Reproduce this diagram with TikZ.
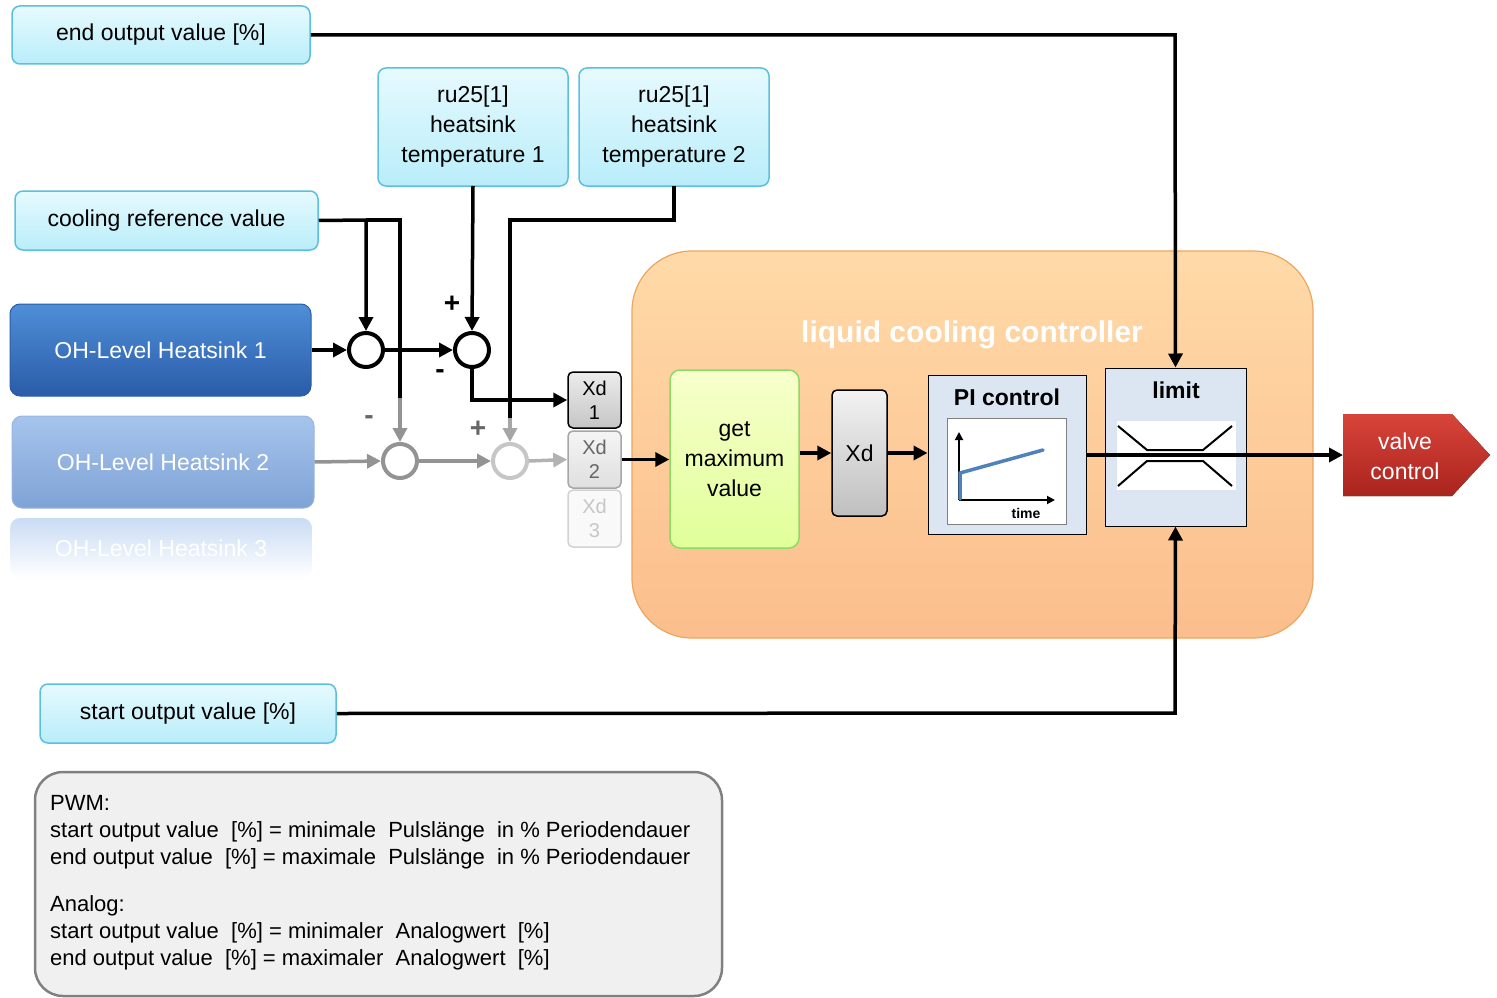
\documentclass[tikz,border=0pt]{standalone}
\usepackage{fontspec}
\setmainfont{Liberation Sans}
\usetikzlibrary{arrows.meta}
\definecolor{cyb}{HTML}{5BC0DE}
\definecolor{cyf}{HTML}{B9EDFA}
\definecolor{cyt}{HTML}{E6FAFE}
\definecolor{oh1t}{HTML}{4F8ED8}
\definecolor{oh1b}{HTML}{2A5CA8}
\definecolor{oh2t}{HTML}{A6C4EC}
\definecolor{oh2b}{HTML}{7FA3D6}
\definecolor{ort}{HTML}{FFDAA8}
\definecolor{orb}{HTML}{FBBE8C}
\definecolor{vct}{HTML}{D9443A}
\definecolor{vcb}{HTML}{A9241E}
\definecolor{pib}{HTML}{DCE6F2}
\definecolor{stb}{HTML}{4F81BD}
\begin{document}
\begin{tikzpicture}[x=1pt,y=-1pt,
 inp/.style={draw=cyb,line width=1.5pt,rounded corners=8pt,top color=cyt,bottom color=cyf,align=center,font=\fontsize{23}{30}\selectfont,inner sep=0pt},
 ar/.style={line width=3.5pt,-{Triangle[length=14pt,width=14pt]}},
 ln/.style={line width=3.5pt},
 sum/.style={circle,draw,line width=4pt,minimum size=34pt,inner sep=0pt,fill=white},
 xd/.style={draw,line width=1.5pt,rounded corners=5pt,align=center,font=\fontsize{20}{24}\selectfont,inner sep=0pt},
 blk/.style={draw,fill=pib,line width=1pt,inner sep=0pt}]
\useasboundingbox (0,0) rectangle (1497,998);
% big controller
\node[draw=orange!60!brown!70,line width=1.2pt,rounded corners=60pt,top color=ort,bottom color=orb,minimum width=681pt,minimum height=387pt] (lcc) at (972.5,444.5) {};
\node[text=white,font=\bfseries\fontsize{30}{34}\selectfont] (title) at (972,335) {liquid cooling controller};
% inputs
\node[inp,minimum width=298pt,minimum height=58pt] (eov) at (161,35) {end output value [\%]};
\node[inp,minimum width=190pt,minimum height=118pt] (ru1) at (473,127) {ru25[1]\\heatsink\\temperature 1};
\node[inp,minimum width=190pt,minimum height=118pt] (ru2) at (674,127) {ru25[1]\\heatsink\\temperature 2};
\node[inp,minimum width=303pt,minimum height=59pt] (crv) at (166.5,220.5) {cooling reference value};
\node[inp,minimum width=296pt,minimum height=59pt] (sov) at (188,713.5) {start output value [\%]};
% OH levels
\node[draw=oh1b,line width=1pt,rounded corners=10pt,top color=oh1t,bottom color=oh1b,text=white,minimum width=301pt,minimum height=92pt,font=\fontsize{23}{27}\selectfont] (oh1) at (160.5,350) {OH-Level Heatsink 1};
\node[draw=oh2b!80,line width=1pt,rounded corners=10pt,top color=oh2t,bottom color=oh2b,text=white,minimum width=302pt,minimum height=92pt,font=\fontsize{23}{27}\selectfont] (oh2) at (163,462) {OH-Level Heatsink 2};
\node[rounded corners=10pt,top color=oh2t!60,bottom color=white,text=white,minimum width=302pt,minimum height=60pt,font=\fontsize{23}{27}\selectfont] (oh3) at (161,548) {OH-Level Heatsink 3};
% sums
\node[sum] (c1) at (366,350) {};
\node[sum] (c2) at (472,350) {};
\node[sum,draw=gray!85] (c3) at (400,461) {};
\node[sum,draw=gray!45] (c4) at (510,461) {};
% Xd
\node[xd,top color=gray!15,bottom color=gray!45,minimum width=53pt,minimum height=56pt] (x1) at (594.5,400) {Xd\\1};
\node[xd,draw=gray!70,text=gray!80!black,top color=gray!8,bottom color=gray!25,minimum width=53pt,minimum height=57pt] (x2) at (594.5,459.5) {Xd\\2};
\node[xd,draw=gray!35,text=gray!45,fill=gray!5,minimum width=53pt,minimum height=57pt] (x3) at (594.5,518.5) {Xd\\3};
% controller blocks
\node[draw=green!50!olive!60,line width=1.5pt,rounded corners=10pt,top color=green!15!yellow!20!white,bottom color=green!30!yellow!40,minimum width=129pt,minimum height=178pt,align=center,font=\fontsize{23}{30}\selectfont] (gm) at (734.5,459) {get\\maximum\\value};
\node[xd,top color=gray!10,bottom color=gray!50,minimum width=55pt,minimum height=126pt,font=\fontsize{23}{27}\selectfont] (xd) at (859.5,453) {Xd};
\node[blk,minimum width=158pt,minimum height=159pt] (pi) at (1007,454.5) {};
\node[font=\bfseries\fontsize{23}{27}\selectfont] (pit) at (1007,397) {PI control};
\node[draw=gray,fill=white,minimum width=119pt,minimum height=106pt,inner sep=0pt] (pig) at (1006.5,471) {};
\node[blk,minimum width=141pt,minimum height=158pt] (lim) at (1175.5,447) {};
\node[font=\bfseries\fontsize{23}{27}\selectfont] (limt) at (1176,390) {limit};
\node[fill=white,minimum width=119pt,minimum height=69pt,inner sep=0pt] (limg) at (1176.5,455.5) {};
% graphs
\draw[line width=1.8pt,-{Triangle[length=8pt,width=8pt]}] (959,500) -- (959,432);
\draw[line width=1.8pt,-{Triangle[length=8pt,width=8pt]}] (959,500) -- (1055,500);
\node[font=\bfseries\fontsize{14}{16}\selectfont] (tm) at (1026,513) {time};
\draw[stb,line width=3.5pt,line cap=round] (960,499) -- (960,473) -- (1043,450);
\draw[line width=2pt] (1118,426) -- (1147,450) -- (1203,450) -- (1232,426);
\draw[line width=2pt] (1118,486) -- (1147,461) -- (1203,461) -- (1232,486);
% valve
\fill[top color=vct,bottom color=vcb] (1343,414) -- (1452,414) -- (1490,455) -- (1452,496) -- (1343,496) -- cycle;
\node[text=white,align=center,font=\fontsize{23}{30}\selectfont] (vct) at (1405,456) {valve\\control};
% connectors
\draw[ar] (eov.east) -- (1175,35) -- (lim.north);
\draw[ar] (sov.east) -- (1175,713) -- (lim.south);
\draw[ar] (crv.east) -- (366,220) -- (c1.north);
\draw[ln] (366,220) -- (400,220) -- (400,400);
\draw[ar,color=gray!85] (400,398) -- (c3.north);
\draw[ar] (473,186) -- (c2.north);
\draw[ln] (674,186) -- (674,220) -- (510,220) -- (510,420);
\draw[ar,color=gray!70] (510,418) -- (c4.north);
\draw[ar] (oh1.east) -- (c1.west);
\draw[ar] (c1.east) -- (c2.west);
\draw[ar] (c2.south) -- (472,400) -- (x1.west);
\draw[ar,color=gray!85] (oh2.east) -- (c3.west);
\draw[ar,color=gray!85] (c3.east) -- (c4.west);
\draw[ar,color=gray!60] (c4.east) -- (x2.west);
\draw[ar] (x2.east) -- (gm.west |- x2.east);
\draw[ar] (gm.east |- xd.west) -- (xd.west);
\draw[ar] (xd.east) -- (pi.west |- xd.east);
\draw[ar] (1086,455) -- (1343,455);
% signs
\node[font=\bfseries\fontsize{28}{28}\selectfont] (p1) at (452,304) {+};
\node[font=\bfseries\fontsize{28}{28}\selectfont] (m1) at (440,374) {-};
\node[font=\bfseries\fontsize{28}{28}\selectfont,text=gray!80!black] (m2) at (369,420) {-};
\node[font=\bfseries\fontsize{28}{28}\selectfont,text=gray!80!black] (p2) at (478,429) {+};
% note
\node[draw=gray,line width=2.5pt,rounded corners=28pt,fill=gray!12,minimum width=687pt,minimum height=224pt] (note) at (378.5,884) {};
\node[anchor=north west,align=left,font=\fontsize{22}{27}\selectfont,inner sep=0pt] (nt) at (50,795) {PWM:\\start output value\ \ [\%] = minimale\ \ Pulslänge\ \ in \% Periodendauer\\end output value\ \ [\%] = maximale\ \ Pulslänge\ \ in \% Periodendauer\\[20pt]Analog:\\start output value\ \ [\%] = minimaler\ \ Analogwert\ \ [\%]\\end output value\ \ [\%] = maximaler\ \ Analogwert\ \ [\%]};
\end{tikzpicture}
\end{document}
